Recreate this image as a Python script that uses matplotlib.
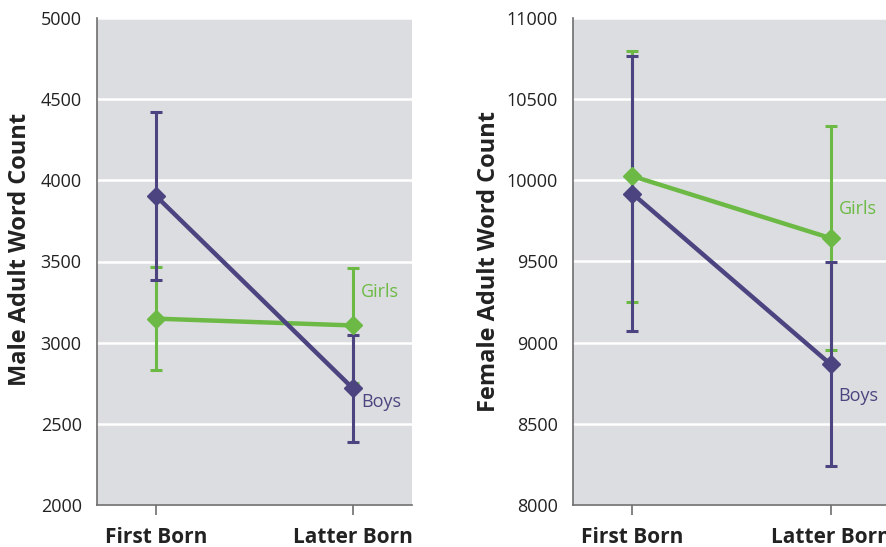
import matplotlib.pyplot as plt

# data
groups = ['First Born', 'Latter Born']
male_boys = [3903, 2718]
male_boys_err = [517, 327]
male_girls = [3148, 3106]
male_girls_err = [316, 356]
female_boys = [9918, 8867]
female_boys_err = [849, 628]
female_girls = [10026, 9644]
female_girls_err = [773, 689]

PURPLE = '#4b4480'
GREEN = '#6cba45'
BG = '#dcdde0'

plt.rcParams['font.family'] = ['Open Sans', 'DejaVu Sans']

fig = plt.figure(figsize=(8.87, 5.47), dpi=100)
ax1 = fig.add_axes([97 / 887, 1 - 505 / 547, 315 / 887, 487 / 547])
ax2 = fig.add_axes([573 / 887, 1 - 505 / 547, 317 / 887, 487 / 547])


def panel(ax, boys, boys_err, girls, girls_err, ylim, ylabel, girls_lab_y, boys_lab_y,
          lab_pad, lab_y):
    x = list(range(len(groups)))
    ax.set_facecolor(BG)
    for vals, errs, col in [(girls, girls_err, GREEN), (boys, boys_err, PURPLE)]:
        ax.errorbar(x, vals, yerr=errs, fmt='none', ecolor=col, elinewidth=2.2,
                    capsize=4.5, capthick=2.2, zorder=3)
    for vals, col in [(girls, GREEN), (boys, PURPLE)]:
        ax.plot(x, vals, color=col, linewidth=3.2, marker='D', markersize=9, zorder=4)
    ax.set_xlim(-0.3, 1.3)
    ax.set_ylim(*ylim)
    ax.set_yticks(range(ylim[0], ylim[1] + 1, 500))
    ax.grid(axis='y', color='white', linewidth=1.8)
    ax.set_axisbelow(True)
    for s in ['top', 'right']:
        ax.spines[s].set_visible(False)
    for s in ['left', 'bottom']:
        ax.spines[s].set_color('#6e6e6e')
        ax.spines[s].set_linewidth(1.2)
    ax.set_xticks(x)
    ax.set_xticklabels(groups, fontsize=15, fontweight='bold', color='#222222')
    ax.tick_params(axis='x', length=7, width=1.2, color='#6e6e6e', pad=9)
    ax.tick_params(axis='y', length=0, labelsize=13, labelcolor='#222222', pad=11)
    ax.set_ylabel(ylabel, fontsize=17, fontweight='bold', color='#222222',
                  labelpad=lab_pad, y=lab_y)
    ax.text(1.04, girls_lab_y, 'Girls', color=GREEN, fontsize=13, va='center')
    ax.text(1.04, boys_lab_y, 'Boys', color=PURPLE, fontsize=13, va='center')


panel(ax1, male_boys, male_boys_err, male_girls, male_girls_err, (2000, 5000),
      'Male Adult Word Count', 3315, 2635, 6, 0.525)
panel(ax2, female_boys, female_boys_err, female_girls, female_girls_err, (8000, 11000),
      'Female Adult Word Count', 9823, 8671, 4, 0.5)

fig.savefig('out.png', dpi=100)
